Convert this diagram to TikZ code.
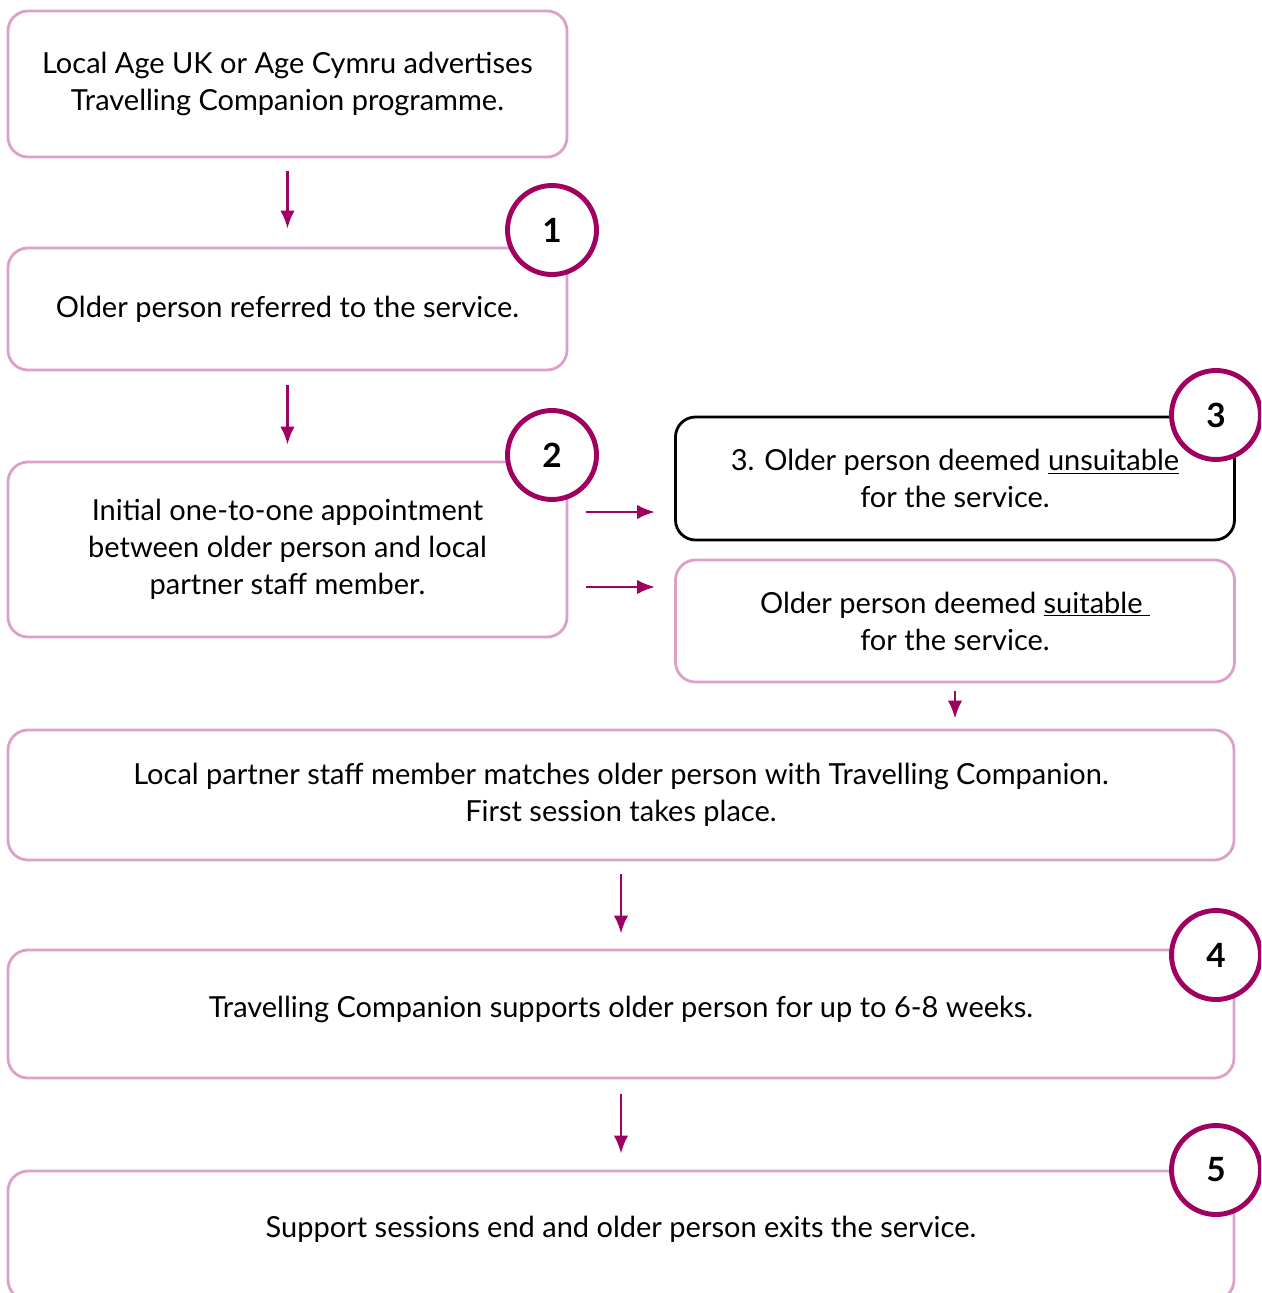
\documentclass[tikz,border=0pt]{standalone}
\usepackage{fontspec}
\setmainfont{Lato}
\usetikzlibrary{arrows.meta,calc,positioning}
\definecolor{ageplum}{HTML}{A0005F}
\definecolor{agepink}{HTML}{DDA0C9}

\begin{document}
\begin{tikzpicture}[>={Latex[length=3.6mm,width=2.9mm]},
  every node/.style={font=\fontsize{16.5}{21}\selectfont},
  box/.style={draw=agepink,line width=1.6pt,rounded corners=4mm,align=center,
              inner sep=0pt,minimum width=11.18cm},
  numbox/.style={circle,draw=ageplum,line width=2.8pt,fill=white,inner sep=0pt,
                 minimum size=1.78cm,font=\fontsize{19}{22}\selectfont\bfseries},
  arr/.style={->,draw=ageplum,line width=1.6pt}]
 \useasboundingbox (0,0) rectangle (25.22,-25.86);
 \clip (0,0) rectangle (25.22,-25.86);
 % left column
 \node[box,minimum height=2.92cm] (advert) at (5.75,-1.68)
    {Local Age UK or Age Cymru advertises\\Travelling Companion programme.};
 \node[box,minimum height=2.44cm] (referral) at (5.75,-6.18)
    {Older person referred to the service.};
 \node[box,minimum height=3.5cm] (initial) at (5.75,-10.99)
    {Initial one-to-one appointment\\between older person and local\\partner staff member.};
 % right column
 \node[box,draw=black,minimum height=2.46cm] (unsuitable) at (19.10,-9.57)
    {3. Older person deemed \underline{unsuitable}\\for the service.};
 \node[box,minimum height=2.44cm] (suitable) at (19.10,-12.42)
    {Older person deemed \underline{suitable\ }\\for the service.};
 % full width
 \node[box,minimum width=24.52cm,minimum height=2.6cm] (match) at (12.42,-15.9)
    {Local partner staff member matches older person with Travelling Companion.\\First session takes place.};
 \node[box,minimum width=24.52cm,minimum height=2.56cm,text depth=0.3cm] (support) at (12.42,-20.28)
    {Travelling Companion supports older person for up to 6-8 weeks.};
 \node[box,minimum width=24.52cm,minimum height=2.58cm,text depth=0.34cm] (exit) at (12.42,-24.71)
    {Support sessions end and older person exits the service.};
 % numbers
 \node[numbox] (one) at (11.04,-4.60) {1};
 \node[numbox] (two) at (11.04,-9.10) {2};
 \node[numbox] (three) at (24.32,-8.30) {3};
 \node[numbox] (four) at (24.32,-19.10) {4};
 \node[numbox] (five) at (24.32,-23.40) {5};
 % arrows
 \draw[arr,shorten <=0.26cm,shorten >=0.36cm] (advert) -- (referral);
 \draw[arr,shorten <=0.28cm,shorten >=0.32cm] (referral) -- (initial);
 \draw[arr,shorten <=0.36cm,shorten >=0.38cm]
    ([yshift=0.75cm]initial.east) -- ([yshift=-0.67cm]unsuitable.west);
 \draw[arr,shorten <=0.36cm,shorten >=0.38cm]
    ([yshift=-0.75cm]initial.east) -- ([yshift=0.68cm]suitable.west);
 \draw[arr,shorten <=0.16cm,shorten >=0.2cm] (suitable.south) -- (suitable.south |- match.north);
 \draw[arr,shorten <=0.26cm,shorten >=0.3cm] (match) -- (support);
 \draw[arr,shorten <=0.3cm,shorten >=0.32cm] (support) -- (exit);
\end{tikzpicture}
\end{document}
